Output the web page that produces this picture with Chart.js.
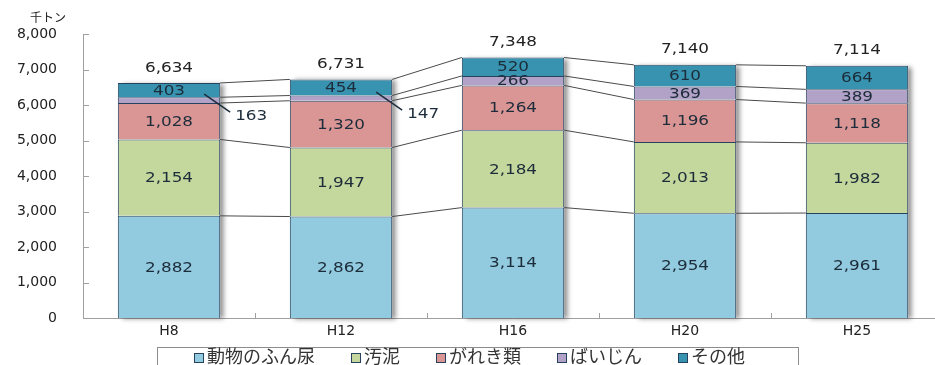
<!DOCTYPE html>
<html>
<head>
<meta charset="utf-8">
<script src="https://cdn.jsdelivr.net/npm/chart.js@4"></script>
<style>
  html, body { margin: 0; padding: 0; background: #fff; overflow: hidden; }
  #wrap { position: absolute; left: 0; top: 0; width: 950px; height: 372px; }
</style>
</head>
<body>
<div id="wrap"><canvas id="chart" width="950" height="372"></canvas></div>
<script>
const categories = ["H8", "H12", "H16", "H20", "H25"];
const manure = [2882, 2862, 3114, 2954, 2961];
const sludge = [2154, 1947, 2184, 2013, 1982];
const debris = [1028, 1320, 1264, 1196, 1118];
const dust = [163, 147, 266, 369, 389];
const other = [403, 454, 520, 610, 664];
const totals = [6634, 6731, 7348, 7140, 7114];
const seriesNames = ["動物のふん尿", "汚泥", "がれき類", "ばいじん", "その他"];
const yTicks = [0, 1000, 2000, 3000, 4000, 5000, 6000, 7000, 8000];
const unitLabel = "千トン";

const colors = ["#92cadf", "#c4d79c", "#da9694", "#b3a2c8", "#3893b0"];
const edge = "#27425e";
const labelFont = '14px "DejaVu Sans"';

// text a bit wider than the font, like the original
function wideText(ctx, txt, x, y) {
  ctx.save();
  ctx.translate(x, y);
  ctx.scale(1.2, 1);
  ctx.fillText(txt, 0, 0);
  ctx.restore();
}

const decor = {
  id: "decor",
  beforeDatasetsDraw(chart) {
    const ctx = chart.ctx;
    const metas = chart.data.datasets.map((d, i) => chart.getDatasetMeta(i));
    const topMeta = metas[metas.length - 1];
    const botMeta = metas[0];

    // shadow behind each stack
    ctx.save();
    ctx.fillStyle = "#fff";
    ctx.shadowColor = "rgba(0,0,0,0.45)";
    ctx.shadowBlur = 5;
    ctx.shadowOffsetX = 4;
    ctx.shadowOffsetY = 1;
    topMeta.data.forEach((bar, i) => {
      const b = botMeta.data[i];
      ctx.fillRect(bar.x - bar.width / 2, bar.y, bar.width, b.base - bar.y);
    });
    ctx.restore();

    // series lines between stacks
    ctx.save();
    ctx.strokeStyle = "#4a4a4a";
    ctx.lineWidth = 1;
    metas.forEach(m => {
      for (let i = 0; i < m.data.length - 1; i++) {
        const a = m.data[i], b = m.data[i + 1];
        ctx.beginPath();
        ctx.moveTo(a.x + a.width / 2, a.y);
        ctx.lineTo(b.x - b.width / 2, b.y);
        ctx.stroke();
      }
    });
    ctx.restore();

    // inward tick marks
    const ys = chart.scales.y, area = chart.chartArea;
    ctx.save();
    ctx.strokeStyle = "#a0a0a0";
    ctx.lineWidth = 1;
    yTicks.forEach(v => {
      const y = Math.round(ys.getPixelForValue(v)) + 0.5;
      ctx.beginPath();
      ctx.moveTo(area.left, y);
      ctx.lineTo(area.left + 6, y);
      ctx.stroke();
    });
    const step = (area.right - area.left) / categories.length;
    for (let i = 0; i <= categories.length; i++) {
      const x = Math.round(area.left + step * i) + 0.5;
      ctx.beginPath();
      ctx.moveTo(x, area.bottom);
      ctx.lineTo(x, area.bottom - 5);
      ctx.stroke();
    }
    ctx.restore();
  },
  afterDatasetsDraw(chart) {
    const ctx = chart.ctx;
    ctx.save();
    ctx.font = labelFont;
    ctx.textAlign = "center";
    ctx.textBaseline = "middle";
    chart.data.datasets.forEach((ds, di) => {
      const meta = chart.getDatasetMeta(di);
      meta.data.forEach((bar, i) => {
        const txt = ds.data[i].toLocaleString("en-US");
        const h = bar.base - bar.y;
        const cy = (bar.y + bar.base) / 2;
        ctx.fillStyle = "#1c2c3a";
        if (h >= 8) {
          wideText(ctx, txt, bar.x, cy + 1);
        } else {
          const right = bar.x + bar.width / 2;
          ctx.strokeStyle = "#1c2c3a";
          ctx.lineWidth = 1.5;
          ctx.beginPath();
          ctx.moveTo(right - 16, cy - 6);
          ctx.lineTo(right + 10, cy + 12);
          ctx.stroke();
          wideText(ctx, txt, right + 31, cy + 16);
        }
      });
    });
    const topMeta = chart.getDatasetMeta(chart.data.datasets.length - 1);
    ctx.fillStyle = "#222";
    topMeta.data.forEach((bar, i) => {
      wideText(ctx, totals[i].toLocaleString("en-US"), bar.x, bar.y - 15);
    });
    ctx.restore();
  },
  afterDraw(chart) {
    const ctx = chart.ctx;
    ctx.save();
    // unit label
    ctx.font = '12px "Noto Sans CJK JP"';
    ctx.fillStyle = "#222";
    ctx.textAlign = "center";
    ctx.textBaseline = "middle";
    ctx.fillText(unitLabel, 48, 17);

    // legend
    ctx.strokeStyle = "#8c8c8c";
    ctx.lineWidth = 1;
    ctx.strokeRect(157.5, 347.5, 641, 30);
    ctx.font = '18px "Noto Sans CJK JP"';
    ctx.textAlign = "left";
    let x = 194;
    const y = 356;
    chart.data.datasets.forEach(ds => {
      ctx.fillStyle = ds.backgroundColor;
      ctx.fillRect(x, y - 3, 10, 10);
      ctx.strokeStyle = ds.borderColor;
      ctx.strokeRect(x + 0.5, y - 2.5, 9, 9);
      ctx.fillStyle = "#333";
      ctx.fillText(ds.label, x + 13, y);
      x += 13 + ctx.measureText(ds.label).width + 36;
    });
    ctx.restore();
  }
};

const seriesData = [manure, sludge, debris, dust, other];

new Chart(document.getElementById("chart"), {
  type: "bar",
  data: {
    labels: categories,
    datasets: seriesData.map((d, i) => ({
      label: seriesNames[i],
      data: d,
      backgroundColor: colors[i],
      borderColor: edge,
      borderWidth: 1,
      categoryPercentage: 1,
      barPercentage: 0.595,
    })),
  },
  options: {
    responsive: false,
    animation: false,
    locale: "en-US",
    layout: { padding: { top: 31, right: 7, bottom: 26, left: 0 } },
    plugins: {
      legend: { display: false },
      tooltip: { enabled: false },
    },
    scales: {
      x: {
        stacked: true,
        grid: { display: false, drawTicks: false },
        border: { color: "#a0a0a0" },
        ticks: { padding: 5, color: "#222", font: { family: "DejaVu Sans", size: 14 } },
        afterFit(s) { s.height = 28; },
      },
      y: {
        stacked: true,
        min: 0,
        max: 8000,
        grid: { display: false, drawTicks: false },
        border: { color: "#a0a0a0" },
        ticks: { stepSize: 1000, padding: 26, color: "#222", font: { family: "DejaVu Sans", size: 14 } },
        afterFit(s) { s.width = 83; },
      },
    },
  },
  plugins: [decor],
});
</script>
</body>
</html>
